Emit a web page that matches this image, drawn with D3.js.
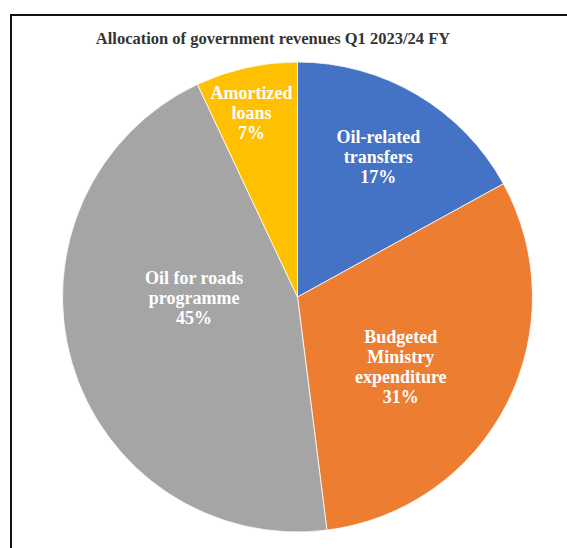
<!DOCTYPE html>
<html>
<head>
<meta charset="utf-8">
<script src="https://cdn.jsdelivr.net/npm/d3@7"></script>
<style>
  body { margin: 0; background: #fff; }
  svg { display: block; }
</style>
</head>
<body>
<svg id="chart" width="567" height="548"></svg>
<script>
// Data
const categories = ["Oil-related transfers", "Budgeted Ministry expenditure", "Oil for roads programme", "Amortized loans"];
const values = [17, 31, 45, 7];
const labelLines = [["Oil-related", "transfers"], ["Budgeted", "Ministry", "expenditure"], ["Oil for roads", "programme"], ["Amortized", "loans"]];
const title = "Allocation of government revenues Q1 2023/24 FY";

// Layout
const cx = 297.5, cy = 297, radius = 235;
const colors = ["#4472C4", "#ED7D31", "#A5A5A5", "#FFC000"];
// label placement: fraction of radius, angle shift in degrees (best-fit style)
const labelPlace = [{ k: 0.69, da: -0.7 }, { k: 0.53, da: 7 }, { k: 0.44, da: 16 }, { k: 0.81, da: -1.4 }];

const svg = d3.select("#chart");

// Frame (only left and top edges fall inside the picture)
svg.append("path")
  .attr("d", "M11,548V15H567")
  .attr("fill", "none")
  .attr("stroke", "#111")
  .attr("stroke-width", 2);

svg.append("text")
  .attr("x", 273).attr("y", 44)
  .attr("text-anchor", "middle")
  .style("font-family", "'Liberation Serif', 'Times New Roman', serif")
  .style("font-weight", "bold")
  .style("font-size", "16.5px")
  .attr("fill", "#333")
  .text(title);

const pie = d3.pie().sort(null).value((d) => d);
const arcs = pie(values);
const arc = d3.arc().innerRadius(0).outerRadius(radius);

const g = svg.append("g").attr("transform", `translate(${cx},${cy})`);

g.selectAll("path")
  .data(arcs)
  .join("path")
  .attr("d", arc)
  .attr("fill", (d, i) => colors[i])
  .attr("stroke", "#fff")
  .attr("stroke-width", 0.8);

// Labels
arcs.forEach((d, i) => {
  const p = labelPlace[i];
  const a = (d.startAngle + d.endAngle) / 2 + (p.da * Math.PI) / 180;
  const x = Math.sin(a) * radius * p.k;
  const y = -Math.cos(a) * radius * p.k;
  const lines = labelLines[i].concat([values[i] + "%"]);
  const lh = 20;
  const t = g.append("text")
    .attr("text-anchor", "middle")
    .style("font-family", "'Liberation Serif', 'Times New Roman', serif")
    .style("font-weight", "bold")
    .style("font-size", "18px")
    .attr("fill", "#fff");
  lines.forEach((s, j) => {
    t.append("tspan")
      .attr("x", x)
      .attr("y", y + (j - (lines.length - 1) / 2) * lh)
      .attr("dy", "0.35em")
      .text(s);
  });
});
</script>
</body>
</html>
